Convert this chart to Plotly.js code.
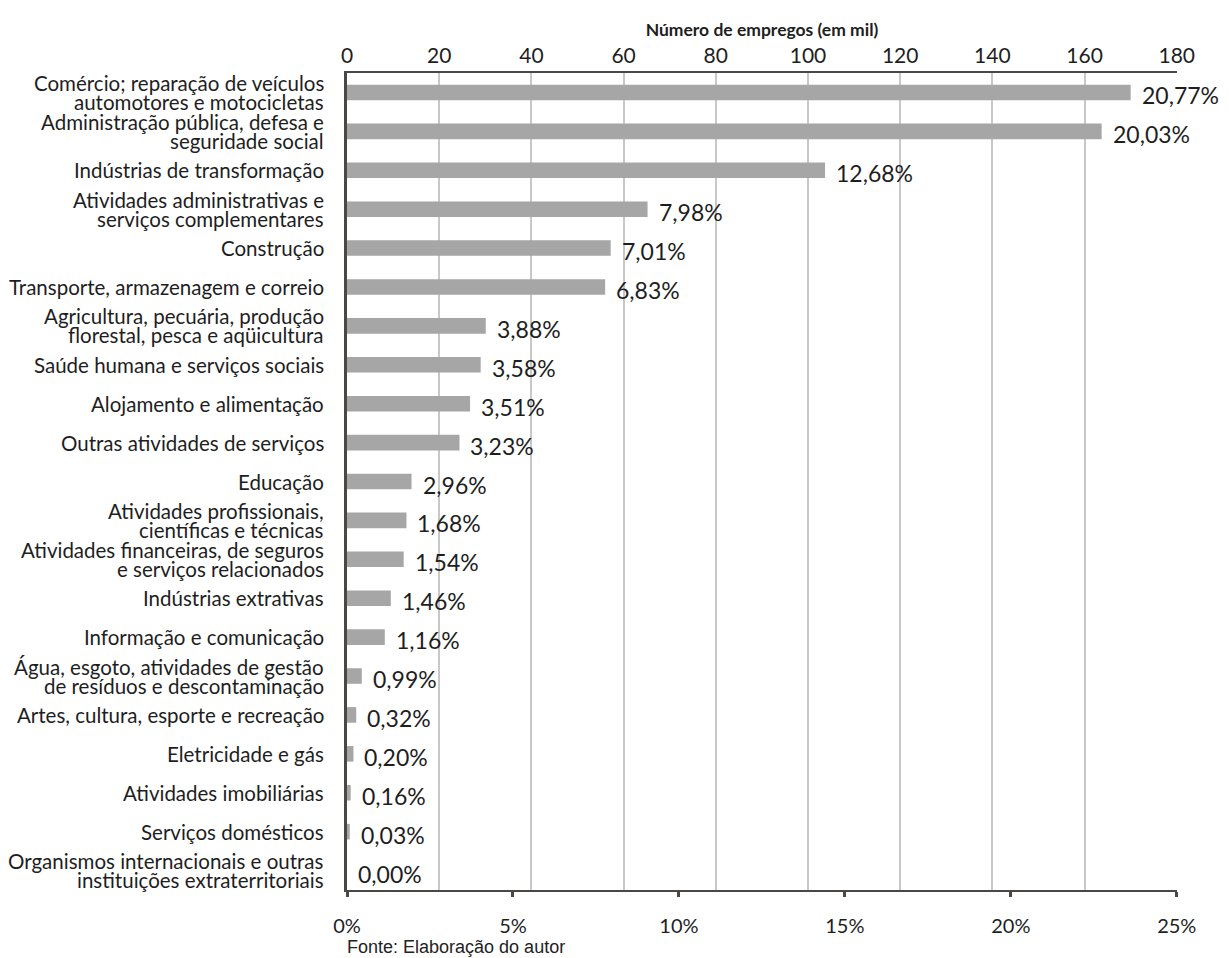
<!DOCTYPE html>
<html>
<head>
<meta charset="utf-8">
<script src="https://cdn.plot.ly/plotly-3.0.1.min.js"></script>
<style>html,body{margin:0;padding:0;background:#fff;}#chart{width:1229px;height:958px;}</style>
</head>
<body>
<div id="chart"></div>
<script>
const categories = [
  "Comércio; reparação de veículos<br>automotores e motocicletas",
  "Administração pública, defesa e<br>seguridade social",
  "Indústrias de transformação",
  "Atividades administrativas e<br>serviços complementares",
  "Construção",
  "Transporte, armazenagem e correio",
  "Agricultura, pecuária, produção<br>florestal, pesca e aqüicultura",
  "Saúde humana e serviços sociais",
  "Alojamento e alimentação",
  "Outras atividades de serviços",
  "Educação",
  "Atividades profissionais,<br>científicas e técnicas",
  "Atividades financeiras, de seguros<br>e serviços relacionados",
  "Indústrias extrativas",
  "Informação e comunicação",
  "Água, esgoto, atividades de gestão<br>de resíduos e descontaminação",
  "Artes, cultura, esporte e recreação",
  "Eletricidade e gás",
  "Atividades imobiliárias",
  "Serviços domésticos",
  "Organismos internacionais e outras<br>instituições extraterritoriais"
];
const empregosMil = [170.0, 163.7, 103.7, 65.2, 57.2, 56.0, 30.1, 29.0, 26.7, 24.4, 14.0, 12.9, 12.3, 9.5, 8.2, 3.2, 2.0, 1.4, 0.8, 0.6, 0.0];
const percentValues = [20.77, 20.03, 12.68, 7.98, 7.01, 6.83, 3.88, 3.58, 3.51, 3.23, 2.96, 1.68, 1.54, 1.46, 1.16, 0.99, 0.32, 0.20, 0.16, 0.03, 0.00];
const percentLabels = ["20,77%", "20,03%", "12,68%", "7,98%", "7,01%", "6,83%", "3,88%", "3,58%", "3,51%", "3,23%", "2,96%", "1,68%", "1,54%", "1,46%", "1,16%", "0,99%", "0,32%", "0,20%", "0,16%", "0,03%", "0,00%"];
const topTicks = [0, 20, 40, 60, 80, 100, 120, 140, 160, 180];
const bottomTicks = [0, 5, 10, 15, 20, 25];
const bottomTickLabels = ["0%", "5%", "10%", "15%", "20%", "25%"];

const FONT = "Lato, 'Open Sans', sans-serif";
const DARK = "#1e1e1e";
const AXIS = "#4b4744";

const traces = [
  {
    type: "bar",
    orientation: "h",
    x: empregosMil,
    y: categories,
    xaxis: "x",
    yaxis: "y",
    marker: {color: "#a6a6a6", line: {width: 0}},
    hoverinfo: "skip",
    showlegend: false
  },
  {
    type: "scatter",
    mode: "markers",
    x: percentValues,
    y: categories,
    xaxis: "x2",
    yaxis: "y",
    marker: {opacity: 0, size: 1},
    hoverinfo: "skip",
    showlegend: false
  }
];

const annotations = [];
const lineGap = 19;
categories.forEach((c, i) => {
  const lines = c.split("<br>");
  const n = lines.length;
  lines.forEach((ln, k) => {
    annotations.push({
      xref: "paper", yref: "y", x: 0, y: c,
      xanchor: "right", yanchor: "middle", align: "right",
      xshift: -21, yshift: ((n - 1) / 2 - k) * lineGap,
      text: ln, showarrow: false,
      font: {family: FONT, size: 20.5, color: DARK}
    });
  });
});
percentLabels.forEach((t, i) => {
  annotations.push({
    xref: "x", yref: "y", x: empregosMil[i], y: categories[i],
    xanchor: "left", yanchor: "middle",
    xshift: 9, yshift: -3,
    text: t, showarrow: false,
    font: {family: FONT, size: 23, color: DARK}
  });
});
annotations.push({
  xref: "paper", yref: "paper", x: 0, y: -57 / 817,
  xanchor: "left", yanchor: "middle", xshift: -2,
  text: "Fonte: Elaboração do autor", showarrow: false,
  font: {family: "'Liberation Sans', Arial, sans-serif", size: 18, color: "#222"}
});

const layout = {
  width: 1229,
  height: 958,
  margin: {l: 347, r: 52, t: 73, b: 68, pad: 0},
  paper_bgcolor: "#fff",
  plot_bgcolor: "#fff",
  bargap: 0.6,
  font: {family: FONT, color: DARK},
  xaxis: {
    side: "top",
    range: [0, 180.05],
    tickvals: topTicks,
    ticks: "",
    showgrid: true,
    gridcolor: "#c8c8c8",
    gridwidth: 2,
    zeroline: false,
    showline: true,
    linecolor: AXIS,
    linewidth: 2,
    tickfont: {family: FONT, size: 21, color: DARK},
    ticklabelstandoff: 0,
    title: {text: "<b>Número de empregos (em mil)</b>", font: {family: FONT, size: 17.5, color: DARK}, standoff: 0},
    fixedrange: true
  },
  xaxis2: {
    overlaying: "x",
    anchor: "y",
    side: "bottom",
    range: [0, 25.007],
    tickvals: bottomTicks,
    ticktext: bottomTickLabels,
    ticks: "outside",
    ticklen: 5,
    tickwidth: 3,
    tickcolor: AXIS,
    showgrid: false,
    zeroline: false,
    showline: true,
    linecolor: AXIS,
    linewidth: 2,
    tickfont: {family: FONT, size: 20, color: DARK},
    ticklabelstandoff: 12,
    fixedrange: true
  },
  yaxis: {
    type: "category",
    categoryorder: "array",
    categoryarray: categories,
    range: [20.5, -0.5],
    autorange: false,
    showticklabels: false,
    ticks: "",
    showgrid: false,
    zeroline: false,
    showline: true,
    linecolor: AXIS,
    linewidth: 3.5,
    fixedrange: true
  },
  annotations: annotations,
  showlegend: false
};

Plotly.newPlot("chart", traces, layout, {displayModeBar: false, staticPlot: true});
</script>
</body>
</html>
